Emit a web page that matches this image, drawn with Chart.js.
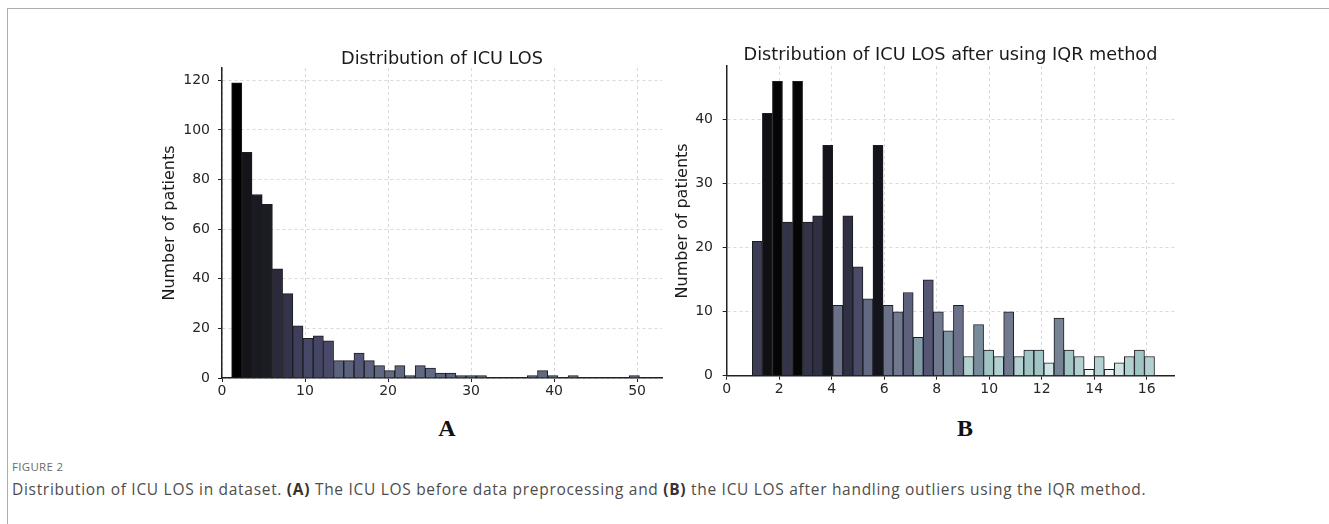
<!DOCTYPE html>
<html>
<head>
<meta charset="utf-8">
<script src="https://cdn.jsdelivr.net/npm/chart.js@4.4.1/dist/chart.umd.min.js"></script>
<style>
  body { margin: 0; background: #fff; }
  #page { position: relative; width: 1329px; height: 524px; overflow: hidden; background: #fff; }
  #frame { position: absolute; left: 7px; top: 8px; right: -2px; bottom: -4px;
           border-top: 1.5px solid #adadad; border-left: 1.5px solid #adadad; }
  canvas { position: absolute; }
  .panel { position: absolute; width: 60px; text-align: center; font: bold 24px "Liberation Serif", serif;
           line-height: 24px; color: #111; }
  #figno { position: absolute; left: 12px; top: 461px; font: 11.5px "Open Sans", sans-serif; line-height: 11.5px;
           color: #6b6b6b; letter-spacing: 0.3px; }
  #caption { position: absolute; left: 12px; top: 482px; font: 15.5px "Open Sans", sans-serif; line-height: 15px;
             color: #4d4d4d; white-space: nowrap; letter-spacing: 0.7px; }
  #caption b { color: #333; }
</style>
</head>
<body>
<div id="page">
  <div id="frame"></div>
  <canvas id="losChart" width="584" height="382" style="left:150px; top:28px;"></canvas>
  <canvas id="iqrChart" width="571" height="383" style="left:665px; top:27px;"></canvas>
  <div class="panel" style="left:417px; top:416px;">A</div>
  <div class="panel" style="left:935px; top:416px;">B</div>
  <div id="figno">FIGURE 2</div>
  <div id="caption">Distribution of ICU LOS in dataset. <b>(A)</b> The ICU LOS before data preprocessing and <b>(B)</b> the ICU LOS after handling outliers using the IQR method.</div>
</div>
<script>
// histogram A: ICU LOS (days), 40 bins
const losBinStart = 1.16;
const losBinWidth = 1.228;
const losCounts = [119, 91, 74, 70, 44, 34, 21, 16, 17, 15,
                   7, 7, 10, 7, 5, 3, 5, 1, 5, 4,
                   2, 2, 1, 1, 1, 0, 0, 0, 0, 1,
                   3, 1, 0, 1, 0, 0, 0, 0, 0, 1];
const losXTicks = [0, 10, 20, 30, 40, 50];
const losYTicks = [0, 20, 40, 60, 80, 100, 120];

// histogram B: after IQR outlier removal, 40 bins
const iqrBinStart = 0.976;
const iqrBinWidth = 0.383;
const iqrCounts = [21, 41, 46, 24, 46, 24, 25, 36, 11, 25,
                   17, 12, 36, 11, 10, 13, 6, 15, 10, 7,
                   11, 3, 8, 4, 3, 10, 3, 4, 4, 2,
                   9, 4, 3, 1, 3, 1, 2, 3, 4, 3];
const iqrXTicks = [0, 2, 4, 6, 8, 10, 12, 14, 16];
const iqrYTicks = [0, 10, 20, 30, 40];

// bar shading by relative height (fraction of tallest bar -> rgb)
const losShade = [
  [0.008, 88, 102, 120], [0.03, 98, 108, 132], [0.06, 92, 98, 126], [0.084, 84, 87, 118],
  [0.13, 72, 72, 104], [0.18, 62, 62, 90], [0.29, 52, 52, 75], [0.37, 42, 42, 60],
  [0.6, 27, 27, 36], [0.76, 20, 20, 25], [1, 0, 0, 0]
];
const iqrShade = [
  [0.02, 240, 248, 248], [0.043, 208, 229, 229], [0.065, 178, 208, 208], [0.087, 160, 195, 195],
  [0.13, 130, 155, 165], [0.17, 122, 142, 156], [0.22, 112, 120, 142], [0.28, 95, 98, 125],
  [0.37, 75, 75, 105], [0.46, 60, 60, 85], [0.54, 48, 48, 70], [0.78, 20, 20, 28],
  [0.89, 15, 15, 20], [1, 5, 5, 5]
];

function shadeFor(value, maxValue, stops) {
  const f = value / maxValue;
  if (f <= stops[0][0]) return `rgb(${stops[0][1]},${stops[0][2]},${stops[0][3]})`;
  for (let i = 1; i < stops.length; i++) {
    if (f <= stops[i][0]) {
      const a = stops[i - 1], b = stops[i];
      const t = (f - a[0]) / (b[0] - a[0]);
      const c = [1, 2, 3].map(k => Math.round(a[k] + (b[k] - a[k]) * t));
      return `rgb(${c[0]},${c[1]},${c[2]})`;
    }
  }
  const l = stops[stops.length - 1];
  return `rgb(${l[1]},${l[2]},${l[3]})`;
}

function binPoints(counts, start, width) {
  return counts.map((c, i) => ({ x: start + width * (i + 0.5), y: c }));
}

Chart.defaults.font.family = "'DejaVu Sans', sans-serif";
Chart.defaults.color = "#262626";

// an empty right-hand axis as wide as the left one keeps the title centred over the plot
function makeHistogram(canvasId, cfg) {
  const maxCount = Math.max(...cfg.counts);
  const ctx = document.getElementById(canvasId).getContext("2d");
  return new Chart(ctx, {
    type: "bar",
    data: {
      datasets: [{
        data: binPoints(cfg.counts, cfg.binStart, cfg.binWidth),
        backgroundColor: cfg.counts.map(c => shadeFor(c, maxCount, cfg.shade)),
        borderColor: "#1c1c22",
        borderWidth: 1,
        borderSkipped: "start",
        barPercentage: 1,
        categoryPercentage: 1,
      }],
    },
    options: {
      responsive: false,
      animation: false,
      devicePixelRatio: 1,
      layout: { padding: 0 },
      plugins: {
        legend: { display: false },
        tooltip: { enabled: false },
        title: {
          display: true,
          text: cfg.title,
          color: "#1a1a1a",
          font: { size: 17.7, weight: "normal", lineHeight: cfg.titleLine },
          padding: { top: cfg.titlePad, bottom: 0 },
        },
      },
      scales: {
        x: {
          type: "linear",
          min: 0,
          max: cfg.xMax,
          offset: false,
          afterFit: (s) => { s.height = cfg.xAxisHeight; },
          afterBuildTicks: (s) => { s.ticks = cfg.xTicks.map(v => ({ value: v })); },
          ticks: { font: { size: 14 }, padding: 1, maxRotation: 0 },
          grid: { offset: false, color: "#d9d9d9", lineWidth: 1, tickLength: 4, tickColor: "#222", tickWidth: 1 },
          border: { display: true, color: "#222", width: 1.5, dash: [3, 3] },
        },
        y: {
          min: 0,
          max: cfg.yMax,
          afterFit: (s) => { s.width = cfg.yAxisWidth; },
          afterBuildTicks: (s) => { s.ticks = cfg.yTicks.map(v => ({ value: v })); },
          ticks: { font: { size: 14 }, padding: cfg.yTickPad },
          grid: { color: "#d9d9d9", lineWidth: 1, tickLength: 4, tickColor: "#222", tickWidth: 1 },
          border: { display: true, color: "#222", width: 1.5, dash: [3, 3] },
          title: {
            display: true,
            text: "Number of patients",
            color: "#1a1a1a",
            font: { size: 16, lineHeight: 1.2 },
            padding: { top: cfg.yTitlePad, bottom: 0 },
          },
        },
        ySpacer: {
          type: "linear",
          position: "right",
          afterFit: (s) => { s.width = cfg.yAxisWidth; },
          ticks: { display: false },
          grid: { display: false, drawTicks: false },
          border: { display: false },
        },
      },
    },
  });
}

makeHistogram("losChart", {
  title: "Distribution of ICU LOS",
  counts: losCounts, binStart: losBinStart, binWidth: losBinWidth,
  xTicks: losXTicks, yTicks: losYTicks, xMax: 53, yMax: 125,
  shade: losShade, titlePad: 22.3, titleLine: 1, xAxisHeight: 32,
  yAxisWidth: 72, yTickPad: 8, yTitlePad: 10.4,
});

makeHistogram("iqrChart", {
  title: "Distribution of ICU LOS after using IQR method",
  counts: iqrCounts, binStart: iqrBinStart, binWidth: iqrBinWidth,
  xTicks: iqrXTicks, yTicks: iqrYTicks, xMax: 17.05, yMax: 48.4,
  shade: iqrShade, titlePad: 17.8, titleLine: 1.2, xAxisHeight: 34.3,
  yAxisWidth: 61.7, yTickPad: 9.7, yTitlePad: 8.4,
});
</script>
</body>
</html>
